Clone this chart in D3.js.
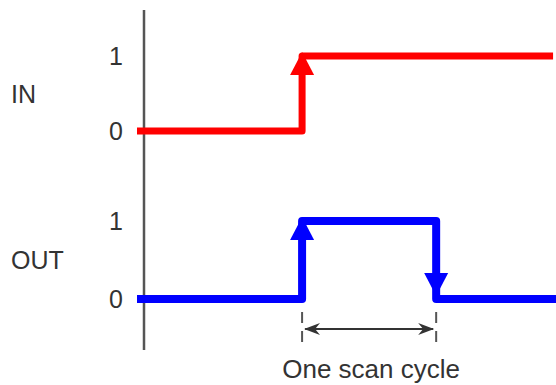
<!DOCTYPE html>
<html>
<head>
<meta charset="utf-8">
<script src="https://cdn.jsdelivr.net/npm/d3@7"></script>
<style>
  html, body { margin: 0; padding: 0; background: #fff; }
  svg { display: block; }
</style>
</head>
<body>
<svg id="chart"></svg>
<script>
// time is in arbitrary units, 0..10 across the plot
const inTimes = [0, 3.94, 9.93];
const inValues = [0, 1, 1];
const outTimes = [0, 3.94, 7.14, 10];
const outValues = [0, 1, 0, 0];
const levelTicks = [0, 1];
const signalNames = ["IN", "OUT"];
const scanLabel = "One scan cycle";

const settings = {
  width: 556,
  height: 385,
  axisX: 144,
  font: "'Liberation Sans', Arial, Helvetica, sans-serif",
  textColor: "#333",
  axisColor: "#555",
};

const svg = d3
  .select("#chart")
  .attr("width", settings.width)
  .attr("height", settings.height);

const x = d3.scaleLinear().domain([0, 10]).range([137, 556]);
const yIn = d3.scaleLinear().domain([0, 1]).range([131, 56]);
const yOut = d3.scaleLinear().domain([0, 1]).range([299, 221]);

// vertical time-origin line
svg
  .append("line")
  .attr("x1", settings.axisX)
  .attr("x2", settings.axisX)
  .attr("y1", 10)
  .attr("y2", 350)
  .attr("stroke", settings.axisColor)
  .attr("stroke-width", 2.5);

// level labels 0 / 1 for each signal
function levelAxis(scale) {
  const axis = d3.axisLeft(scale).tickValues(levelTicks).tickFormat(d3.format("d")).tickSize(0).tickPadding(21);
  svg
    .append("g")
    .attr("transform", `translate(${settings.axisX}, 0)`)
    .call(axis)
    .call((g) => g.select(".domain").remove())
    .call((g) =>
      g
        .selectAll("text")
        .attr("font-family", settings.font)
        .attr("font-size", "25px")
        .attr("fill", settings.textColor)
    );
}
levelAxis(yIn);
levelAxis(yOut);

// signal names
svg
  .append("g")
  .selectAll("text")
  .data(signalNames)
  .join("text")
  .attr("x", 11)
  .attr("y", (d) => (d === "IN" ? (yIn(0) + yIn(1)) / 2 : (yOut(0) + yOut(1)) / 2 - 0.5))
  .attr("dy", "0.36em")
  .attr("font-family", settings.font)
  .attr("font-size", "25px")
  .attr("fill", settings.textColor)
  .text((d) => d);

function signal(times, values, y, color, width) {
  const pts = times.map((t, i) => [t, values[i]]);
  const line = d3
    .line()
    .x((d) => x(d[0]))
    .y((d) => y(d[1]))
    .curve(d3.curveStepAfter);
  svg
    .append("path")
    .attr("d", line(pts))
    .attr("fill", "none")
    .attr("stroke", color)
    .attr("stroke-width", width)
    .attr("stroke-linejoin", "round");

  // arrow head on every edge, pointing in the direction of the change
  for (let i = 1; i < pts.length; i++) {
    const prev = pts[i - 1][1];
    const cur = pts[i][1];
    if (prev === cur) continue;
    const ex = x(pts[i][0]);
    const up = cur > prev;
    const tipY = up ? y(cur) - 4 : y(cur) - 3;
    const dir = up ? 1 : -1;
    svg
      .append("path")
      .attr(
        "d",
        `M${ex},${tipY} L${ex - 12},${tipY + dir * 23} L${ex + 12},${tipY + dir * 23} Z`
      )
      .attr("fill", color);
  }
}

signal(inTimes, inValues, yIn, "#ff0000", 7);
signal(outTimes, outValues, yOut, "#0000ff", 8);

// scan cycle dimension
const rise = x(outTimes[1]);
const fall = x(outTimes[2]);

svg
  .append("defs")
  .append("marker")
  .attr("id", "barb")
  .attr("viewBox", "0 0 16 12")
  .attr("refX", 15)
  .attr("refY", 6)
  .attr("markerWidth", 16)
  .attr("markerHeight", 12)
  .attr("markerUnits", "userSpaceOnUse")
  .attr("orient", "auto-start-reverse")
  .append("path")
  .attr("d", "M0,0 L16,6 L0,12 L5,6 Z")
  .attr("fill", "#333");

svg
  .append("g")
  .selectAll("line")
  .data([rise, fall])
  .join("line")
  .attr("x1", (d) => d)
  .attr("x2", (d) => d)
  .attr("y1", 312)
  .attr("y2", 346)
  .attr("stroke", settings.axisColor)
  .attr("stroke-width", 2)
  .attr("stroke-dasharray", "11,8");

svg
  .append("line")
  .attr("x1", rise + 3)
  .attr("x2", fall - 3)
  .attr("y1", 329)
  .attr("y2", 329)
  .attr("stroke", "#333")
  .attr("stroke-width", 2)
  .attr("marker-start", "url(#barb)")
  .attr("marker-end", "url(#barb)");

svg
  .append("text")
  .attr("x", (rise + fall) / 2 + 2)
  .attr("y", 378)
  .attr("text-anchor", "middle")
  .attr("font-family", settings.font)
  .attr("font-size", "26px")
  .attr("fill", settings.textColor)
  .text(scanLabel);
</script>
</body>
</html>
